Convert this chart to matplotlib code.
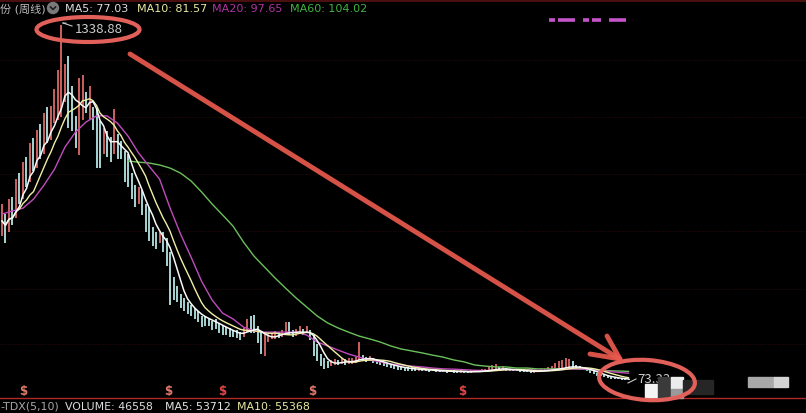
import matplotlib
matplotlib.use('Agg')
import numpy as np
import pandas as pd
import matplotlib.pyplot as plt
from matplotlib.patches import Ellipse, Rectangle, Circle

# ---------------- data (weekly bars) ----------------
close = [
    640, 610, 690, 665, 760, 735, 820, 800, 880, 850,
    930, 905, 985, 950, 1015, 1045, 1070, 1130, 1170, 1080,
    1000, 980, 1085, 1110, 1045, 1090, 1000, 960, 900, 950,
    915, 890, 960, 900, 880, 850, 830, 770, 720, 740,
    700, 660, 620, 590, 575, 585, 560, 540, 470, 400,
    380, 360, 345, 330, 315, 305, 300, 292, 288, 282,
    275, 270, 262, 255, 250, 245, 240, 235, 230, 250,
    265, 262, 255, 240, 215, 222, 228, 232, 238, 234,
    240, 250, 245, 240, 242, 246, 244, 250, 230, 190,
    160, 140, 130, 128, 135, 138, 136, 140, 137, 140,
    142, 145, 160, 150, 146, 148, 142, 138, 134, 130,
    126, 123, 120, 118, 116, 114, 113, 112, 110, 111,
    110, 108, 106, 108, 105, 104, 106, 103, 105, 104,
    102, 104, 103, 101, 103, 105, 104, 106, 108, 110,
    113, 115, 112, 114, 111, 109, 107, 108, 106, 105,
    104, 103, 104, 105, 107, 108, 110, 112, 114, 116,
    118, 122, 124, 120, 116, 114, 112, 110, 104, 97.3,
    92, 89, 86, 83, 80.5, 79, 78, 77, 76, 75.2,
]
high = [
    700, 665, 720, 725, 790, 810, 850, 870, 920, 935,
    965, 985, 1025, 1045, 1050, 1110, 1180, 1338.88, 1200, 1230,
    1120, 1015, 1150, 1160, 1100, 1120, 1045, 1040, 995, 970,
    960, 940, 1040, 950, 925, 890, 880, 810, 770, 760,
    750, 700, 690, 620, 600, 600, 600, 580, 530, 440,
    410, 380, 365, 350, 340, 330, 320, 300, 300, 295,
    285, 290, 275, 268, 262, 258, 252, 250, 245, 260,
    290, 300, 305, 265, 245, 240, 238, 240, 248, 245,
    250, 280, 280, 250, 255, 265, 255, 265, 252, 235,
    200, 165, 150, 140, 145, 148, 145, 150, 147, 150,
    152, 155, 210, 162, 155, 158, 152, 148, 142, 138,
    134, 130, 128, 125, 122, 120, 120, 118, 116, 118,
    114, 112, 110, 112, 109, 108, 110, 107, 109, 108,
    106, 108, 107, 105, 108, 110, 108, 112, 114, 118,
    128, 130, 118, 124, 117, 114, 112, 113, 111, 110,
    109, 108, 109, 110, 112, 114, 118, 125, 135, 140,
    145, 150, 148, 142, 128, 124, 120, 116, 112, 106,
    99, 94, 91, 88, 85, 83, 81, 80, 78.5, 77,
]
low = [
    585, 560, 600, 625, 650, 700, 720, 760, 780, 820,
    830, 860, 880, 920, 930, 990, 1000, 1010, 1065, 970,
    960, 900, 875, 1000, 1025, 1000, 965, 830, 830, 880,
    870, 850, 880, 860, 860, 780, 760, 720, 690, 700,
    660, 600, 570, 550, 540, 560, 530, 480, 340, 360,
    350, 330, 320, 310, 300, 290, 280, 262, 265, 265,
    250, 255, 240, 235, 232, 228, 225, 222, 215, 225,
    245, 240, 240, 205, 166, 160, 210, 220, 220, 222,
    225, 240, 235, 228, 230, 240, 235, 240, 215, 160,
    140, 125, 112, 115, 122, 128, 127, 130, 128, 130,
    132, 135, 145, 142, 138, 140, 134, 130, 126, 122,
    118, 115, 112, 110, 108, 106, 105, 106, 104, 104,
    106, 104, 103, 104, 102, 101, 102, 100, 101, 100,
    99, 100, 100, 98, 99, 101, 101, 102, 104, 106,
    108, 110, 108, 109, 107, 105, 104, 104, 103, 102,
    101, 100, 100, 101, 103, 104, 106, 108, 110, 112,
    114, 116, 118, 116, 112, 110, 108, 105, 100, 94,
    89, 86, 83, 80, 78, 76, 75.5, 74.5, 74, 73.33,
]

ma20_bar = list(range(0, 178, 3)) + [179]
ma20_val = [665, 676, 686, 718, 768, 825, 904, 957, 993, 1015,
            1015, 989, 943, 883, 836, 790, 687, 594, 512, 426,
            359, 312, 291, 262, 248, 244, 244, 244, 244, 234,
            209, 195, 180, 166, 155, 145, 138, 130, 127, 123,
            120, 116, 113, 112, 110, 108, 107, 108, 110, 110,
            109, 108, 108, 110, 112, 113, 111, 107, 103, 99.5,
            97.65]
ma60_bar = list(range(36, 178, 3)) + [179]
ma60_val = [854, 850, 847, 840, 829, 811, 783, 744, 701, 662,
            622, 565, 515, 476, 437, 401, 366, 334, 302, 277,
            259, 244, 230, 220, 209, 195, 184, 177, 170, 162,
            155, 145, 138, 127, 123, 120, 120, 116, 116, 113,
            113, 113, 113, 112, 110, 108, 106, 105, 104.02]

peak_label = "1338.88"
low_label = "73.33"
header_prefix = "份 (周线)"
header_items = [("MA5: 77.03", '#dcdcdc'), ("MA10: 81.57", '#e8e8a4'),
                ("MA20: 97.65", '#b034a4'), ("MA60: 104.02", '#40b440')]
footer_items = [("-TDX(5,10)", '#a8a8a8'), ("VOLUME: 46558", '#dcdcdc'),
                ("MA5: 53712", '#e4e4e4'), ("MA10: 55368", '#e8e8a4')]

# ---------------- figure ----------------
W, H = 806, 414
fig = plt.figure(figsize=(W / 100, H / 100), dpi=100, facecolor='black')
FONT = ['DejaVu Sans', 'Noto Sans CJK SC']
NUMFONT = ['Noto Sans CJK SC', 'DejaVu Sans']

bg = fig.add_axes([0, 0, 1, 1])
bg.set_xlim(0, W); bg.set_ylim(H, 0); bg.axis('off')
for gy in [61, 118, 175, 232, 290, 345]:
    bg.plot([0, W], [gy, gy], color='#3a0c0c', lw=0.6, ls=(0, (1, 2)))
bg.plot([0, W], [1.5, 1.5], color='#5a1414', lw=1.2)
bg.plot([0, W], [399, 399], color='#b02828', lw=1.0)

ax = fig.add_axes([0, 0, 1, 1])
ax.axis('off')
ax.set_xlim(-0.571, 229.71)
ax.set_ylim(-44.3, 1431.6)

c = np.array(close, dtype=float)
hi = np.array(high, dtype=float)
lo = np.array(low, dtype=float)
x = np.arange(len(c))
prev = np.concatenate([[c[0] - 1], c[:-1]])
up = c >= prev
ax.vlines(x[up], lo[up], hi[up], color='#ee7272', lw=1.2, zorder=2)
ax.vlines(x[~up], lo[~up], hi[~up], color='#c4f8f8', lw=1.2, zorder=2)

s = pd.Series(c)
ma5 = s.rolling(5, min_periods=1).mean()
ma10 = s.rolling(10, min_periods=1).mean()
ax.plot(ma60_bar, ma60_val, color='#6cc05c', lw=1.0, zorder=3)
ax.plot(ma20_bar, ma20_val, color='#c04cbc', lw=1.0, zorder=3)
ax.plot(x, ma10, color='#f0f0a8', lw=1.0, zorder=4)
ax.plot(x, ma5, color='#f8f8f8', lw=1.1, zorder=5)

# ---------------- overlay annotations (pixel coordinates) ----------------
ov = fig.add_axes([0, 0, 1, 1])
ov.set_xlim(0, W); ov.set_ylim(H, 0); ov.axis('off')

# header
ov.text(0, 9, header_prefix, color='#bcbcbc', fontsize=8, va='center', ha='left', family=FONT)
ov.add_patch(Circle((53, 9), 5.5, color='#7a7a7a'))
ov.plot([50.5, 53, 55.5], [8, 10.5, 8], color='#202020', lw=1.2)
hx = [65, 137, 212, 290]
for (t, col), xx in zip(header_items, hx):
    ov.text(xx, 9, t, color=col, fontsize=8, va='center', ha='left', family=FONT)

# footer
fx = [0, 65, 165, 237]
for (t, col), xx in zip(footer_items, fx):
    ov.text(xx, 407, t, color=col, fontsize=7.9, va='center', ha='left', family=FONT)

# $ markers
for mx, mc in [(23, '#e07868'), (168, '#e07868'), (222, '#e04848'), (312, '#e07868'), (462, '#e04848')]:
    ov.text(mx, 392, '$', color=mc, fontsize=8.5, ha='center', va='center', fontweight='bold',
            family=FONT)

# magenta dashes
for x0, x1 in [(549, 555), (558, 575), (583, 589), (592, 601), (609, 626)]:
    ov.plot([x0, x1], [21, 21], color='#c454c8', lw=2.6, solid_capstyle='butt')

# peak label
ov.plot([63, 72], [24, 27], color='#c8c8c8', lw=0.8)
ov.plot([63, 66], [24, 24.2], color='#c8c8c8', lw=0.8)
ov.text(75, 29.5, peak_label, color='#cccccc', fontsize=9.5, va='center', ha='left', family=NUMFONT)

# low label
ov.plot([628, 636], [384, 380], color='#c8c8c8', lw=0.8)
ov.text(637, 380, low_label, color='#cccccc', fontsize=9.5, va='center', ha='left', family=NUMFONT)

# mosaic blocks
ov.add_patch(Rectangle((645, 385), 13, 14, color='#f4f4f4', zorder=6))
ov.add_patch(Rectangle((658, 378), 13, 21, color='#3a3a3a', zorder=6))
ov.add_patch(Rectangle((671, 378), 12, 12, color='#ececec', zorder=6))
ov.add_patch(Rectangle((671, 390), 12, 9, color='#9a9a9a', zorder=6))
ov.add_patch(Rectangle((683, 381), 30, 14, color='#262626', zorder=6))
ov.add_patch(Rectangle((748, 378), 26, 10, color='#a8a8a8', zorder=6))
ov.add_patch(Rectangle((774, 378), 14, 10, color='#d4d4d4', zorder=6))

# red ellipses
ov.add_patch(Ellipse((88, 30.5), 103, 25, fill=False, ec='#e2605a', lw=3, zorder=7))
ov.add_patch(Ellipse((647, 381), 96, 40, angle=4, fill=False, ec='#e2605a', lw=3, zorder=7))

# red arrow
arrow_col = '#ea5a4e'
ov.plot([130, 618], [55, 359], color=arrow_col, lw=3.5, alpha=0.92, solid_capstyle='round', zorder=7)
ov.plot([590, 620], [355, 360], color=arrow_col, lw=3.5, alpha=0.92, solid_capstyle='round', zorder=7)
ov.plot([607, 620], [337, 360], color=arrow_col, lw=3.5, alpha=0.92, solid_capstyle='round', zorder=7)

fig.savefig('out.png', dpi=100, facecolor='black')
